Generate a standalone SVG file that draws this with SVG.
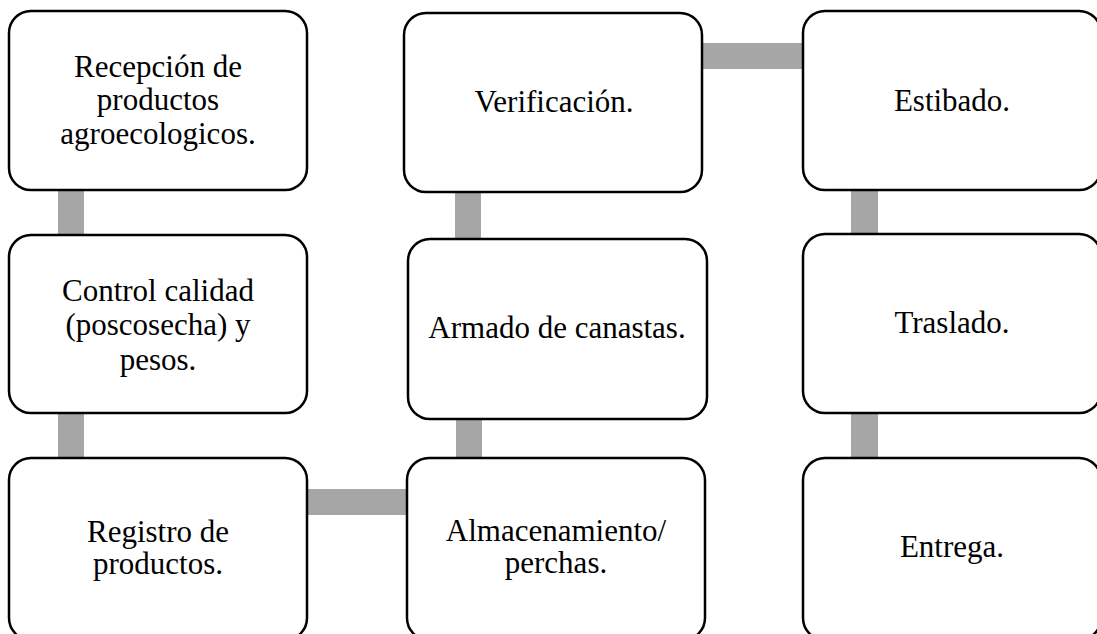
<svg xmlns="http://www.w3.org/2000/svg" width="1097" height="634" viewBox="0 0 1097 634">
<style>
.box{fill:#fff;stroke:#000;stroke-width:2.5}
.bar{fill:#a6a6a6}
.t{font-family:"Liberation Serif","Times New Roman",serif;font-size:31px;fill:#000;text-anchor:middle}
</style>
<rect width="1097" height="634" fill="#fff"/>
<g id="connectors">
<rect class="bar" x="58" y="189" width="26" height="47"/>
<rect class="bar" x="58" y="412" width="26" height="47"/>
<rect class="bar" x="306" y="489" width="102" height="26"/>
<rect class="bar" x="456" y="418" width="26" height="41"/>
<rect class="bar" x="455" y="191" width="26" height="49"/>
<rect class="bar" x="702" y="43" width="102" height="26"/>
<rect class="bar" x="851" y="189" width="27" height="47"/>
<rect class="bar" x="851" y="412" width="27" height="47"/>
</g>
<g id="n1"><rect class="box" x="9" y="11" width="298" height="179" rx="22"/>
<text class="t"><tspan x="158" y="77">Recepción de</tspan><tspan x="158" y="110">productos</tspan><tspan x="158" y="144">agroecologicos.</tspan></text></g>
<g id="n2"><rect class="box" x="9" y="235" width="298" height="178" rx="22"/>
<text class="t"><tspan x="158" y="301">Control calidad</tspan><tspan x="158" y="335">(poscosecha) y</tspan><tspan x="158" y="370">pesos.</tspan></text></g>
<g id="n3"><rect class="box" x="9" y="458" width="298" height="182" rx="22"/>
<text class="t"><tspan x="158" y="542">Registro de</tspan><tspan x="158" y="574">productos.</tspan></text></g>
<g id="n4"><rect class="box" x="407" y="458" width="298" height="182" rx="22"/>
<text class="t"><tspan x="556" y="541">Almacenamiento/</tspan><tspan x="556" y="573">perchas.</tspan></text></g>
<g id="n5"><rect class="box" x="408" y="239" width="299" height="180" rx="22"/>
<text class="t" x="557" y="338">Armado de canastas.</text></g>
<g id="n6"><rect class="box" x="404" y="13" width="298" height="179" rx="22"/>
<text class="t" x="554" y="112">Verificación.</text></g>
<g id="n7"><rect class="box" x="803" y="11" width="298" height="179" rx="22"/>
<text class="t" x="952" y="111">Estibado.</text></g>
<g id="n8"><rect class="box" x="803" y="234" width="298" height="179" rx="22"/>
<text class="t" x="952" y="333">Traslado.</text></g>
<g id="n9"><rect class="box" x="803" y="458" width="298" height="182" rx="22"/>
<text class="t" x="952" y="557">Entrega.</text></g>
</svg>
